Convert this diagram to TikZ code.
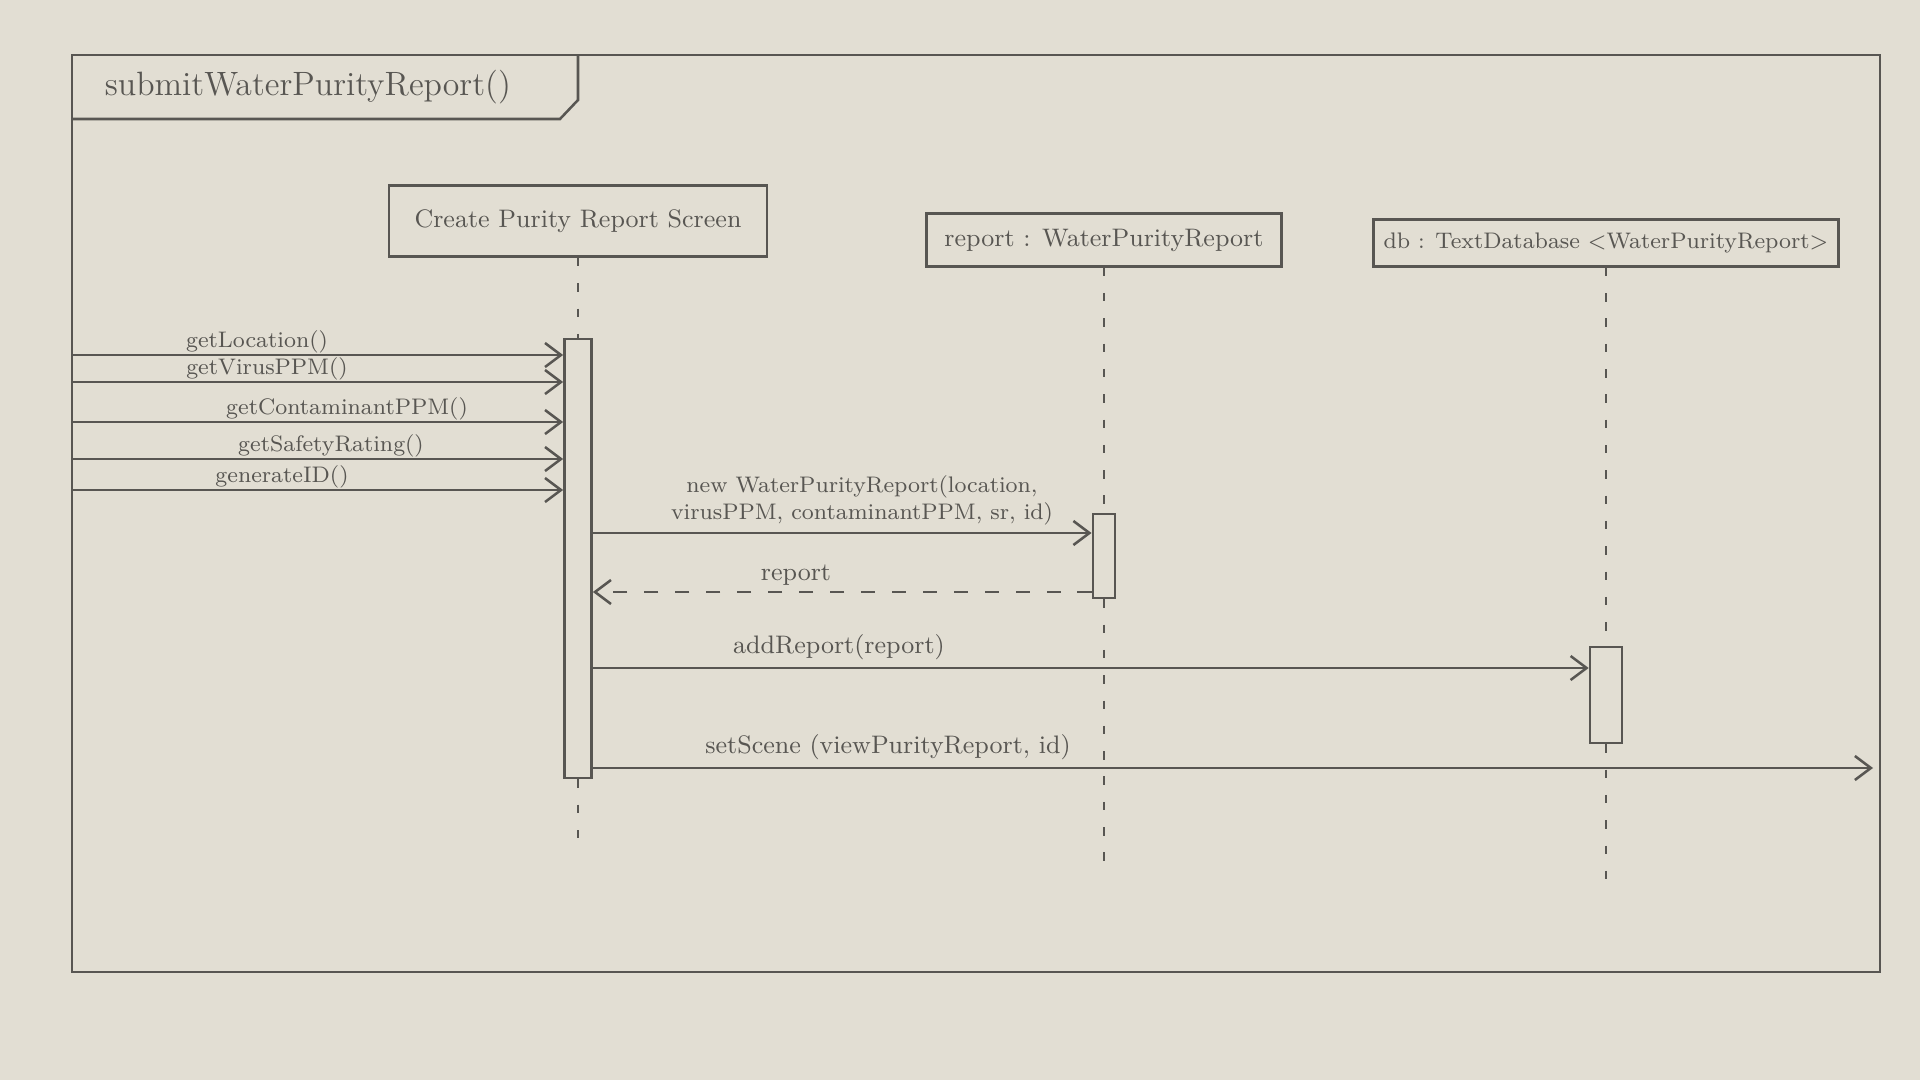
\documentclass[tikz,border=0pt]{standalone}
\usetikzlibrary{arrows.meta}
\definecolor{paperFill}{RGB}{226,222,211}
\definecolor{pencil}{RGB}{88,86,82}
\tikzset{
  pline/.style={draw=pencil, line width=0.9pt},
  objbox/.style={pline, inner sep=2pt, font=\small, text=pencil},
  actbar/.style={pline, fill=paperFill, inner sep=0pt},
  lifeline/.style={pline, dash pattern=on 3pt off 6pt},
  msg/.style={pline, -{Straight Barb[length=2mm,width=3mm]}},
  retmsg/.style={msg, dash pattern=on 5pt off 6pt},
  mlabel/.style={font=\small, text=pencil, inner sep=1.5pt},
}

\begin{document}
\begin{tikzpicture}[x=0.0125cm,y=-0.0125cm]
\fill[paperFill] (0,0) rectangle (1920,1080);
\useasboundingbox (0,0) rectangle (1920,1080);
% frame and title tab
\draw[pline] (72,55) rectangle (1880,972);
\node[anchor=west, font=\large, text=pencil] (title) at (95,87) {submitWaterPurityReport()};
\draw[pline] (72,119) -- (560,119) -- (578,100) -- (578,55);
% objects
\node[objbox, minimum width=4.72cm, minimum height=0.89cm] (scr) at (578,221) {Create Purity Report Screen};
\node[objbox, minimum width=4.44cm, minimum height=0.66cm] (rep) at (1104,240) {report : WaterPurityReport};
\node[objbox, font=\footnotesize, minimum width=5.81cm, minimum height=0.59cm] (db) at (1606,243) {db : TextDatabase <WaterPurityReport>};
% activation bars
\node[actbar, minimum width=0.34cm, minimum height=5.49cm] (act1) at (578,558.5) {};
\node[actbar, minimum width=0.28cm, minimum height=1.05cm] (act2) at (1104,556) {};
\node[actbar, minimum width=0.40cm, minimum height=1.2cm] (act3) at (1606,695) {};
% lifelines
\coordinate (end1) at (578,845);
\coordinate (end2) at (1104,863);
\coordinate (end3) at (1606,882);
\draw[lifeline] (scr) -- (act1);
\draw[lifeline] (act1) -- (end1);
\draw[lifeline] (rep) -- (act2);
\draw[lifeline] (act2) -- (end2);
\draw[lifeline] (db) -- (act3);
\draw[lifeline] (act3) -- (end3);
% incoming calls
\foreach \yy/\xx/\txt in {355/257/getLocation(), 382/267/getVirusPPM(),
    422/347/getContaminantPPM(), 459/331/getSafetyRating(), 490/282/generateID()}{
  \coordinate (src\yy) at (72,\yy);
  \draw[msg] (src\yy) -- (act1.west |- src\yy);
  \node[mlabel, font=\footnotesize, inner sep=0.5pt, anchor=south] (lbl\yy) at (\xx,\yy) {\txt};
}
% create report
\coordinate (newY) at (0,533);
\draw[msg] (act1.east |- newY) -- (act2.west |- newY);
\node[mlabel, font=\footnotesize, anchor=south, align=center] (newlbl) at (862,530)
  {new WaterPurityReport(location,\\virusPPM, contaminantPPM, sr, id)};
% return
\coordinate (retY) at (0,592);
\draw[retmsg] (act2.west |- retY) -- (act1.east |- retY);
\node[mlabel, anchor=south] (retlbl) at (796,590) {report};
% add to db
\coordinate (addY) at (0,668);
\draw[msg] (act1.east |- addY) -- (act3.west |- addY);
\node[mlabel, anchor=south] (addlbl) at (839,665) {addReport(report)};
% change scene
\coordinate (sceneEnd) at (1873,768);
\draw[msg] (act1.east |- sceneEnd) -- (sceneEnd);
\node[mlabel, anchor=south] (scenelbl) at (888,765) {setScene (viewPurityReport, id)};
\end{tikzpicture}
\end{document}
